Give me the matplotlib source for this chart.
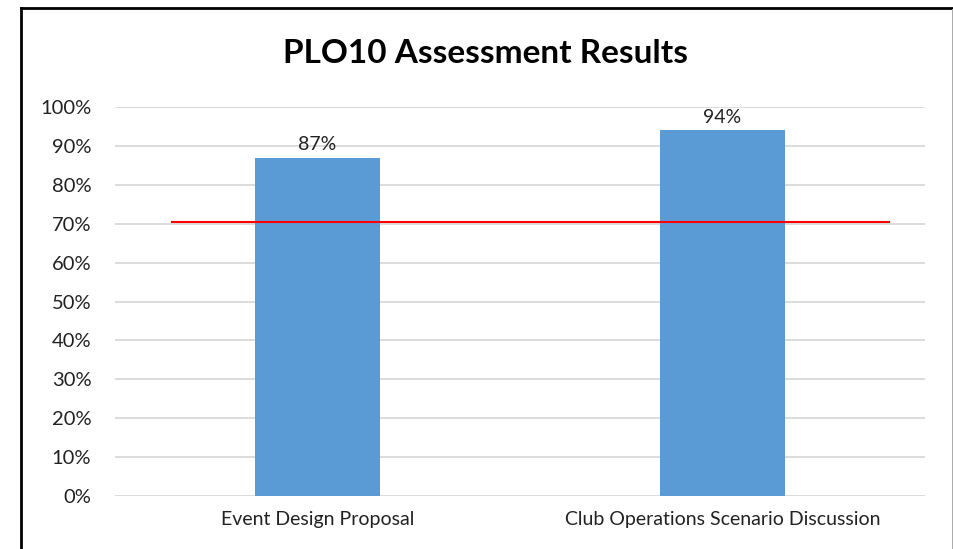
import matplotlib.pyplot as plt
from matplotlib.lines import Line2D
from matplotlib.ticker import PercentFormatter

# données
categories = ['Event Design Proposal', 'Club Operations Scenario Discussion']
scores = [0.87, 0.94]
target = 0.705
target_span = [-0.36, 1.41]
yticks = [0, 0.1, 0.2, 0.3, 0.4, 0.5, 0.6, 0.7, 0.8, 0.9, 1.0]

plt.rcParams['font.family'] = ['Lato', 'DejaVu Sans']

fig = plt.figure(figsize=(9.54, 5.49), dpi=100)
ax = fig.add_axes([0.1205, 0.0965, 0.8491, 0.7085])

x = range(len(categories))
bars = ax.bar(x, scores, width=0.31, color='#5b9bd5', zorder=2)
for bar, val in zip(bars, scores):
    ax.text(bar.get_x() + bar.get_width() / 2, bar.get_height() + 0.012,
            f'{val*100:.0f}%', ha='center', va='bottom', fontsize=14,
            color='#222222', clip_on=False)

# ligne cible
ax.plot(target_span, [target, target], color='#ff0000', linewidth=1.5, zorder=3)

ax.set_xlim(-0.5, len(categories) - 0.5)
ax.set_ylim(0, 1)
ax.set_yticks(yticks)
ax.yaxis.set_major_formatter(PercentFormatter(1.0, decimals=0))
ax.set_xticks(list(x))
ax.set_xticklabels(categories, fontsize=14, color='#222222')
ax.tick_params(axis='y', labelsize=14.5, labelcolor='#222222', length=0, pad=17)
ax.tick_params(axis='x', length=0, pad=11)
ax.grid(True, axis='y', color='#d9d9d9', linewidth=1.3, zorder=0)
ax.set_axisbelow(True)
for s in ax.spines.values():
    s.set_visible(False)

fig.text(0.509, 0.903, 'PLO10 Assessment Results', ha='center', va='center',
         fontsize=24, fontweight='bold', color='black')

# cadre
fig.add_artist(Line2D([21/954, 21/954], [0, 1 - 8/549], color='black', linewidth=2))
fig.add_artist(Line2D([21/954, 953/954], [1 - 8/549, 1 - 8/549], color='black', linewidth=2))
fig.add_artist(Line2D([952.5/954, 952.5/954], [0, 1 - 9/549], color='#aaaaaa', linewidth=0.7))

plt.savefig('out.png', dpi=100)
